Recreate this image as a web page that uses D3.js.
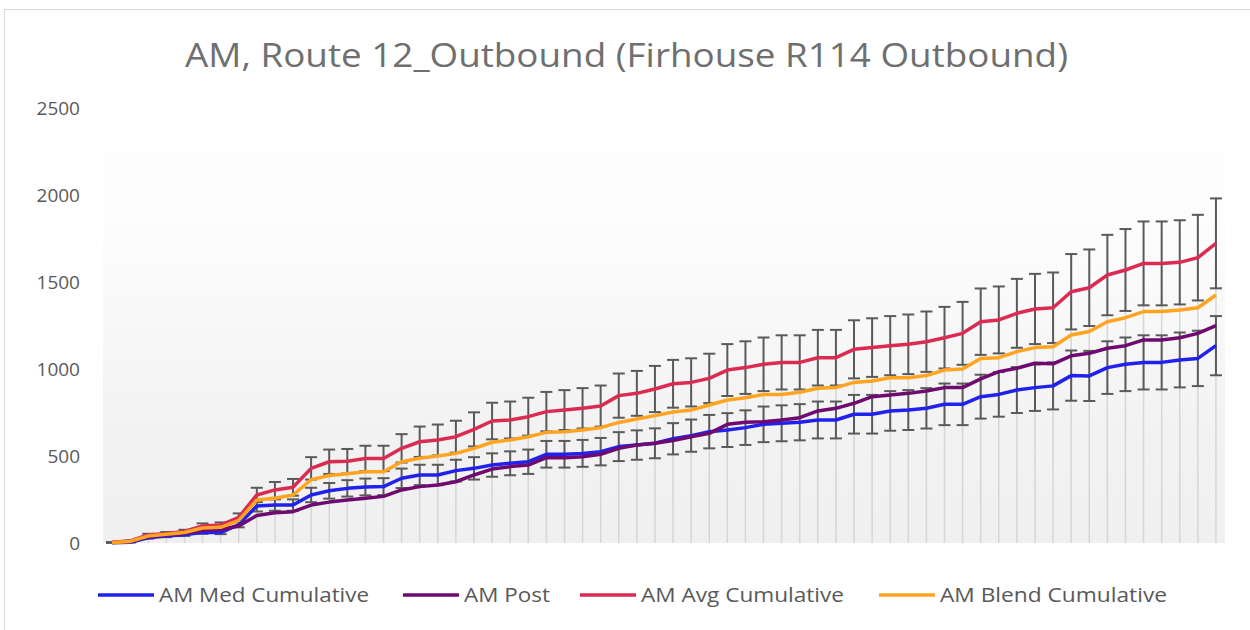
<!DOCTYPE html>
<html>
<head>
<meta charset="utf-8">
<script src="https://cdn.jsdelivr.net/npm/d3@7/dist/d3.min.js"></script>
<style>
  body { margin: 0; background: #ffffff; }
  svg text { font-family: "Open Sans", "Noto Sans", sans-serif; fill: #595959; }
</style>
</head>
<body>
<svg id="chart" width="1250" height="630"></svg>
<script>
// stops along the route (no labels shown on the x axis)
const stops = d3.range(1, 63)

const medCumulative = [2, 4, 30, 40, 48, 62, 60, 106, 213, 218, 218, 276, 300, 314, 322, 324, 372, 391, 391, 416,
  429, 448, 458, 467, 510, 510, 515, 525, 554, 563, 573, 599, 617, 640, 649, 663, 682, 688, 694, 707,
  707, 740, 740, 759, 764, 774, 797, 797, 841, 854, 879, 893, 903, 962, 960, 1008, 1027, 1038, 1038, 1052,
  1061, 1134]
const post = [3, 8, 36, 46, 55, 73, 78, 98, 158, 174, 180, 218, 235, 247, 257, 268, 305, 324, 333, 352,
  391, 425, 439, 448, 490, 490, 496, 510, 544, 563, 573, 589, 611, 630, 682, 694, 697, 707, 720, 759,
  774, 803, 841, 851, 860, 874, 893, 893, 943, 985, 1004, 1033, 1030, 1076, 1090, 1119, 1134, 1167, 1167, 1180,
  1205, 1249]
const avgCumulative = [4, 12, 46, 55, 66, 98, 103, 148, 276, 305, 320, 429, 467, 470, 486, 486, 544, 582, 592, 611,
  653, 701, 707, 726, 755, 764, 774, 787, 847, 860, 885, 915, 923, 946, 994, 1008, 1027, 1038, 1038, 1065,
  1065, 1113, 1123, 1134, 1142, 1157, 1180, 1205, 1272, 1282, 1320, 1345, 1352, 1444, 1467, 1540, 1569, 1607, 1607, 1613,
  1640, 1722]
const blendCumulative = [3, 9, 40, 50, 60, 86, 90, 130, 247, 257, 276, 364, 388, 398, 410, 410, 467, 487, 500, 515,
  544, 579, 592, 611, 636, 640, 649, 663, 693, 713, 732, 753, 764, 793, 822, 835, 854, 854, 866, 889,
  893, 923, 931, 950, 950, 962, 994, 1000, 1061, 1065, 1100, 1123, 1128, 1195, 1215, 1272, 1295, 1330, 1330, 1339,
  1352, 1425]

const yTicks = [0, 500, 1000, 1500, 2000, 2500]
const seriesNames = ['AM Med Cumulative', 'AM Post', 'AM Avg Cumulative', 'AM Blend Cumulative']
const seriesColors = ['#2121ee', '#6e0a70', '#dc2b52', '#ffa420']
// error bars are a fixed percentage, shown on Med and Avg only
const errorPct = 0.15
const withErrorBars = ['AM Med Cumulative', 'AM Avg Cumulative']

const width = 1250
const height = 630
const margin = { top: 108, right: 25, bottom: 87, left: 103 }

function drawChart () {
  const svg = d3.select('#chart')
  const series = seriesNames.map((name, i) => ({
    name: name,
    color: seriesColors[i],
    values: [medCumulative, post, avgCumulative, blendCumulative][i]
  }))

  const x = d3.scaleBand().domain(stops).range([margin.left, width - margin.right]).padding(0)
  const y = d3.scaleLinear().domain([0, 2500]).range([height - margin.bottom, margin.top])
  const cx = d => x(d) + x.bandwidth() / 2

  // chart frame (runs off the right and bottom edges)
  svg.append('rect')
    .attr('x', 4.5).attr('y', 9.5)
    .attr('width', width).attr('height', height)
    .attr('fill', 'none').attr('stroke', '#d9d9d9')

  // plot area gradient
  const grad = svg.append('defs').append('linearGradient')
    .attr('id', 'plot-bg').attr('x1', 0).attr('y1', 0).attr('x2', 0).attr('y2', 1)
  grad.append('stop').attr('offset', 0).attr('stop-color', '#ffffff')
  grad.append('stop').attr('offset', 0.3).attr('stop-color', '#fcfcfc')
  grad.append('stop').attr('offset', 0.75).attr('stop-color', '#f2f2f2')
  grad.append('stop').attr('offset', 1).attr('stop-color', '#f0f0f0')

  svg.append('rect')
    .attr('x', margin.left).attr('y', y(2500))
    .attr('width', width - margin.left - margin.right)
    .attr('height', y(0) - y(2500))
    .attr('fill', 'url(#plot-bg)')

  // title
  svg.append('text')
    .attr('x', 185).attr('y', 67)
    .attr('font-size', 33)
    .attr('fill', '#6f6f6f')
    .style('fill', '#6f6f6f')
    .attr('textLength', 883).attr('lengthAdjust', 'spacingAndGlyphs')
    .text('AM, Route 12_Outbound (Firhouse R114 Outbound)')

  // y axis labels, no axis line
  const yAxis = svg.append('g')
    .attr('transform', 'translate(80,0)')
    .call(d3.axisLeft(y).tickValues(yTicks).tickFormat(d3.format('d')).tickSize(0).tickPadding(0))
  yAxis.select('.domain').remove()
  yAxis.selectAll('text').attr('font-size', 19).attr('font-family', null).attr('fill', '#595959')

  // drop lines from the highest point down to the axis
  svg.append('g').selectAll('line')
    .data(stops)
    .join('line')
    .attr('x1', d => cx(d)).attr('x2', d => cx(d))
    .attr('y1', (d, i) => y(d3.max(series, s => s.values[i])))
    .attr('y2', y(0))
    .attr('stroke', '#d6d6d6').attr('stroke-width', 1.5)

  // error bars
  const capHalf = 6
  series.filter(s => withErrorBars.includes(s.name)).forEach(s => {
    const g = svg.append('g').attr('stroke', '#5a5a5a').attr('stroke-width', 2)
    s.values.forEach((v, i) => {
      const px = cx(stops[i])
      const hi = y(v * (1 + errorPct))
      const lo = y(v * (1 - errorPct))
      g.append('line').attr('x1', px).attr('x2', px).attr('y1', hi).attr('y2', lo)
      g.append('line').attr('x1', px - capHalf).attr('x2', px + capHalf).attr('y1', hi).attr('y2', hi)
      g.append('line').attr('x1', px - capHalf).attr('x2', px + capHalf).attr('y1', lo).attr('y2', lo)
    })
  })

  // series lines
  const line = d3.line().x((d, i) => cx(stops[i])).y(d => y(d))
  svg.append('g').selectAll('path')
    .data(series)
    .join('path')
    .attr('d', s => line(s.values))
    .attr('fill', 'none')
    .attr('stroke', s => s.color)
    .attr('stroke-width', 3.5)
    .attr('stroke-linejoin', 'round')

  // legend
  const legendX = [98, 403, 580, 879]
  const legendW = [210, 86, 203, 227]
  const legendY = 595
  const lg = svg.append('g')
  series.forEach((s, i) => {
    lg.append('line')
      .attr('x1', legendX[i]).attr('x2', legendX[i] + 56)
      .attr('y1', legendY).attr('y2', legendY)
      .attr('stroke', s.color).attr('stroke-width', 3.5)
    lg.append('text')
      .attr('x', legendX[i] + 61).attr('y', legendY + 7)
      .attr('font-size', 20)
      .attr('textLength', legendW[i]).attr('lengthAdjust', 'spacingAndGlyphs')
      .text(s.name)
  })
}

drawChart()
</script>
</body>
</html>
